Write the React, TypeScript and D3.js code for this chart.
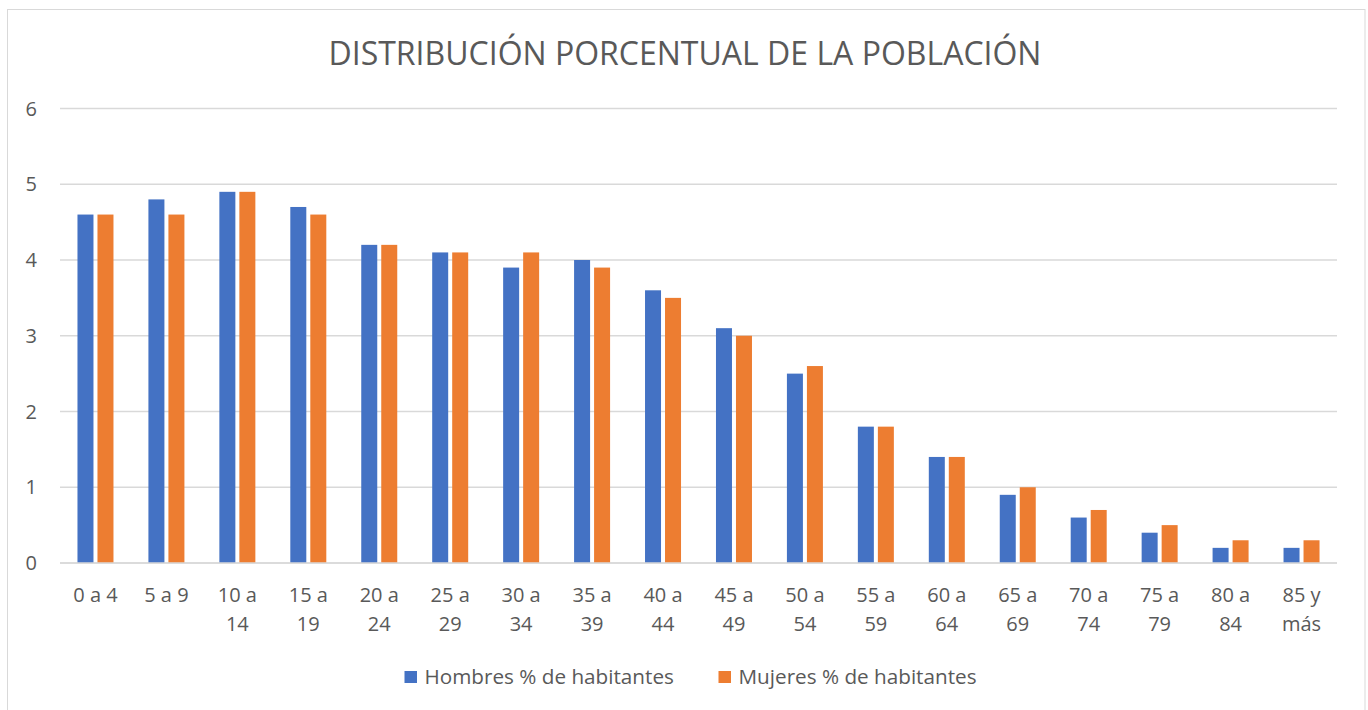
import React from "react";
import * as d3 from "d3";

const categories: string[][] = [
  ["0 a 4"], ["5 a 9"], ["10 a", "14"], ["15 a", "19"], ["20 a", "24"], ["25 a", "29"],
  ["30 a", "34"], ["35 a", "39"], ["40 a", "44"], ["45 a", "49"], ["50 a", "54"], ["55 a", "59"],
  ["60 a", "64"], ["65 a", "69"], ["70 a", "74"], ["75 a", "79"], ["80 a", "84"], ["85 y", "más"],
];
const hombres = [4.6, 4.8, 4.9, 4.7, 4.2, 4.1, 3.9, 4.0, 3.6, 3.1, 2.5, 1.8, 1.4, 0.9, 0.6, 0.4, 0.2, 0.2];
const mujeres = [4.6, 4.6, 4.9, 4.6, 4.2, 4.1, 4.1, 3.9, 3.5, 3.0, 2.6, 1.8, 1.4, 1.0, 0.7, 0.5, 0.3, 0.3];
const yTicks = [0, 1, 2, 3, 4, 5, 6];
const seriesNames = ["Hombres % de habitantes", "Mujeres % de habitantes"];
const colors = ["#4472C4", "#ED7D31"];
const title = "DISTRIBUCIÓN PORCENTUAL DE LA POBLACIÓN";

export default function App() {
  const W = 1368, H = 710;
  const left = 60, right = 1337, top = 108.5, bottom = 563;
  const font = "'Open Sans', 'Noto Sans', sans-serif";
  const textColor = "#595959";

  const x = d3.scaleBand<number>().domain(d3.range(categories.length)).range([left, right]);
  const y = d3.scaleLinear().domain([0, 6]).range([bottom, top]);
  const barW = 16, gap = 4;

  return (
    <svg width={W} height={H} style={{ position: "absolute", left: 0, top: 0, background: "#fff" }}>
      <rect x={7.5} y={9.5} width={1357.5} height={720} fill="#fff" stroke="#D9D9D9" strokeWidth={1} />
      <text x={685} y={65} textAnchor="middle" fontFamily={font} fontSize={32} fill={textColor}>
        {title}
      </text>
      {yTicks.map((t) => (
        <g key={t}>
          <line x1={left} x2={right} y1={y(t)} y2={y(t)} stroke="#D9D9D9" strokeWidth={1.3} />
          <text x={37} y={y(t) + 7} textAnchor="end" fontFamily={font} fontSize={20} fill={textColor}>
            {t}
          </text>
        </g>
      ))}
      {categories.map((c, i) => {
        const cx = (x(i) as number) + x.bandwidth() / 2;
        return (
          <g key={i}>
            <rect x={cx - gap / 2 - barW} y={y(hombres[i])} width={barW} height={y(0) - y(hombres[i])} fill={colors[0]} />
            <rect x={cx + gap / 2} y={y(mujeres[i])} width={barW} height={y(0) - y(mujeres[i])} fill={colors[1]} />
            {c.map((line, j) => (
              <text key={j} x={cx} y={602 + j * 29} textAnchor="middle" fontFamily={font} fontSize={20} fill={textColor}>
                {line}
              </text>
            ))}
          </g>
        );
      })}
      <line x1={left} x2={right} y1={y(0)} y2={y(0)} stroke="#D9D9D9" strokeWidth={1.3} />
      {[0, 1].map((s) => {
        const lx = s === 0 ? 404.5 : 718.5;
        return (
          <g key={s}>
            <rect x={lx} y={671} width={12.5} height={12} fill={colors[s]} />
            <text x={lx + 20} y={684} fontFamily={font} fontSize={20.7} fill={textColor}>
              {seriesNames[s]}
            </text>
          </g>
        );
      })}
    </svg>
  );
}
